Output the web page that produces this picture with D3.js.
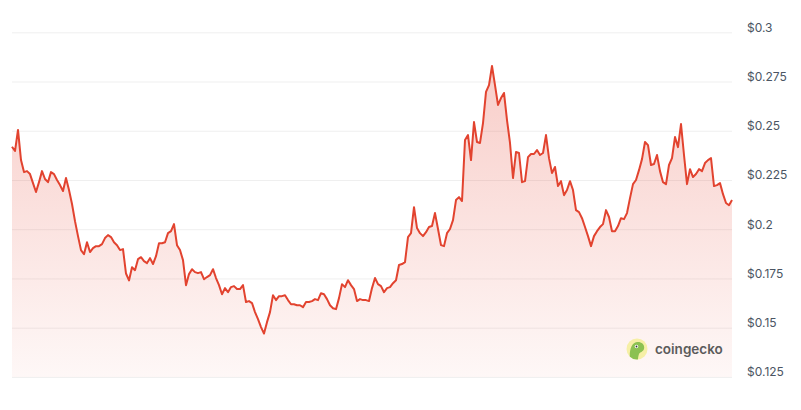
<html>
<head>
<script src="https://d3js.org/d3.v7.min.js"></script>
<style>
  body { margin: 0; background: #fff; }
  svg { display: block; font-family: Inter, "Noto Sans", sans-serif; }
</style>
</head>
<body>
<script>
// price history, one value per step (oldest first)
var prices = [
  0.2419, 0.2397, 0.2504, 0.2351, 0.2290, 0.2295, 0.2280, 0.2234, 0.2189, 0.2239,
  0.2295, 0.2255, 0.2239, 0.2290, 0.2280, 0.2250, 0.2224, 0.2194, 0.2260, 0.2199,
  0.2128, 0.2041, 0.1965, 0.1894, 0.1873, 0.1934, 0.1884, 0.1904, 0.1914, 0.1914,
  0.1924, 0.1955, 0.1970, 0.1960, 0.1934, 0.1919, 0.1894, 0.1899, 0.1775, 0.1740,
  0.1807, 0.1792, 0.1848, 0.1858, 0.1838, 0.1828, 0.1853, 0.1823, 0.1863, 0.1929,
  0.1929, 0.1934, 0.1980, 0.1990, 0.2026, 0.1919, 0.1894, 0.1843, 0.1716, 0.1772,
  0.1797, 0.1782, 0.1777, 0.1782, 0.1746, 0.1757, 0.1767, 0.1797, 0.1752, 0.1716,
  0.1670, 0.1701, 0.1680, 0.1706, 0.1711, 0.1696, 0.1696, 0.1716, 0.1630, 0.1635,
  0.1625, 0.1579, 0.1543, 0.1503, 0.1470, 0.1528, 0.1579, 0.1665, 0.1640, 0.1660,
  0.1660, 0.1665, 0.1640, 0.1619, 0.1619, 0.1614, 0.1614, 0.1604, 0.1630, 0.1630,
  0.1635, 0.1645, 0.1640, 0.1675, 0.1670, 0.1645, 0.1614, 0.1599, 0.1594, 0.1650,
  0.1721, 0.1706, 0.1741, 0.1716, 0.1696, 0.1635, 0.1645, 0.1640, 0.1640, 0.1635,
  0.1701, 0.1752, 0.1721, 0.1711, 0.1680, 0.1701, 0.1706, 0.1726, 0.1741, 0.1818,
  0.1823, 0.1833, 0.1960, 0.1980, 0.2112, 0.2006, 0.1980, 0.1965, 0.1985, 0.2011,
  0.2016, 0.2082, 0.2001, 0.1919, 0.1914, 0.1980, 0.2001, 0.2046, 0.2148, 0.2163,
  0.2143, 0.2453, 0.2478, 0.2351, 0.2544, 0.2443, 0.2438, 0.2539, 0.2697, 0.2732,
  0.2829, 0.2732, 0.2631, 0.2666, 0.2692, 0.2554, 0.2438, 0.2260, 0.2392, 0.2387,
  0.2239, 0.2244, 0.2366, 0.2382, 0.2382, 0.2402, 0.2377, 0.2387, 0.2478, 0.2361,
  0.2285, 0.2316, 0.2219, 0.2244, 0.2173, 0.2199, 0.2244, 0.2199, 0.2097, 0.2087,
  0.2056, 0.2011, 0.1965, 0.1914, 0.1965, 0.1990, 0.2011, 0.2026, 0.2097, 0.2062,
  0.1990, 0.1990, 0.2016, 0.2056, 0.2051, 0.2082, 0.2158, 0.2229, 0.2250, 0.2300,
  0.2356, 0.2443, 0.2427, 0.2326, 0.2331, 0.2377, 0.2295, 0.2239, 0.2229, 0.2326,
  0.2361, 0.2468, 0.2417, 0.2534, 0.2377, 0.2229, 0.2305, 0.2265, 0.2280, 0.2305,
  0.2295, 0.2336, 0.2351, 0.2361, 0.2219, 0.2224, 0.2234, 0.2178, 0.2133, 0.2122,
  0.2148
];

var tickValues = [0.125, 0.15, 0.175, 0.2, 0.225, 0.25, 0.275, 0.3];
var tickLabels = ["$0.125", "$0.15", "$0.175", "$0.2", "$0.225", "$0.25", "$0.275", "$0.3"];

var width = 801, height = 410;
var plotLeft = 12, plotRight = 732, plotTop = 32.3, plotBottom = 376.9;

var svg = d3.select("body").append("svg")
  .attr("width", width)
  .attr("height", height);

var x = d3.scaleLinear().domain([0, prices.length - 1]).range([plotLeft, plotRight]);
var y = d3.scaleLinear().domain([0.125, 0.3]).range([plotBottom, plotTop]);

// grid + right labels
var axis = d3.axisRight(y)
  .tickValues(tickValues)
  .tickSize(-(plotRight - plotLeft))
  .tickPadding(15)
  .tickFormat(function(d, i) { return tickLabels[i]; });

var g = svg.append("g")
  .attr("transform", "translate(" + plotRight + ",0)")
  .call(axis);
g.select(".domain").remove();
g.selectAll(".tick line").attr("stroke", "#efefef").attr("stroke-width", 1);
g.selectAll(".tick text")
  .attr("fill", "#4b5563")
  .attr("font-size", 12)
  .attr("font-family", "Inter, 'Noto Sans', sans-serif")
  .attr("transform", "translate(0,-5)");

// area gradient
var grad = svg.append("defs").append("linearGradient")
  .attr("id", "fill")
  .attr("gradientUnits", "userSpaceOnUse")
  .attr("x1", 0).attr("x2", 0)
  .attr("y1", y(d3.max(prices))).attr("y2", plotBottom);
grad.append("stop").attr("offset", "0%").attr("stop-color", "#e5412f").attr("stop-opacity", 0.26);
grad.append("stop").attr("offset", "100%").attr("stop-color", "#e5412f").attr("stop-opacity", 0.04);

var area = d3.area()
  .x(function(d, i) { return x(i); })
  .y0(plotBottom)
  .y1(function(d) { return y(d); });

var line = d3.line()
  .x(function(d, i) { return x(i); })
  .y(function(d) { return y(d); });

svg.append("path")
  .datum(prices)
  .attr("fill", "url(#fill)")
  .attr("d", area);

svg.append("path")
  .datum(prices)
  .attr("fill", "none")
  .attr("stroke", "#e2432f")
  .attr("stroke-width", 2)
  .attr("stroke-linejoin", "round")
  .attr("d", line);

// coingecko watermark
var logo = svg.append("g").attr("transform", "translate(637,349)");
logo.append("circle").attr("r", 10.5).attr("fill", "#f6efa6");
logo.append("clipPath").attr("id", "lc").append("circle").attr("r", 10.5);
logo.append("path")
  .attr("clip-path", "url(#lc)")
  .attr("fill", "#8cc152")
  .attr("d", "M-7,11 C-8,2 -6,-6 0,-7 C5,-7.5 8,-4 7,0 C6,3 3,3 2,5 C1,8 1,10 1,12 Z");
logo.append("circle").attr("cx", -0.5).attr("cy", -2.5).attr("r", 1.8).attr("fill", "#fff");
logo.append("circle").attr("cx", -0.5).attr("cy", -2.5).attr("r", 0.9).attr("fill", "#333");

svg.append("text")
  .attr("x", 655)
  .attr("y", 354)
  .attr("font-size", 13.5)
  .attr("font-weight", 600)
  .attr("fill", "#5b5b5b")
  .text("coingecko");
</script>
</body>
</html>
